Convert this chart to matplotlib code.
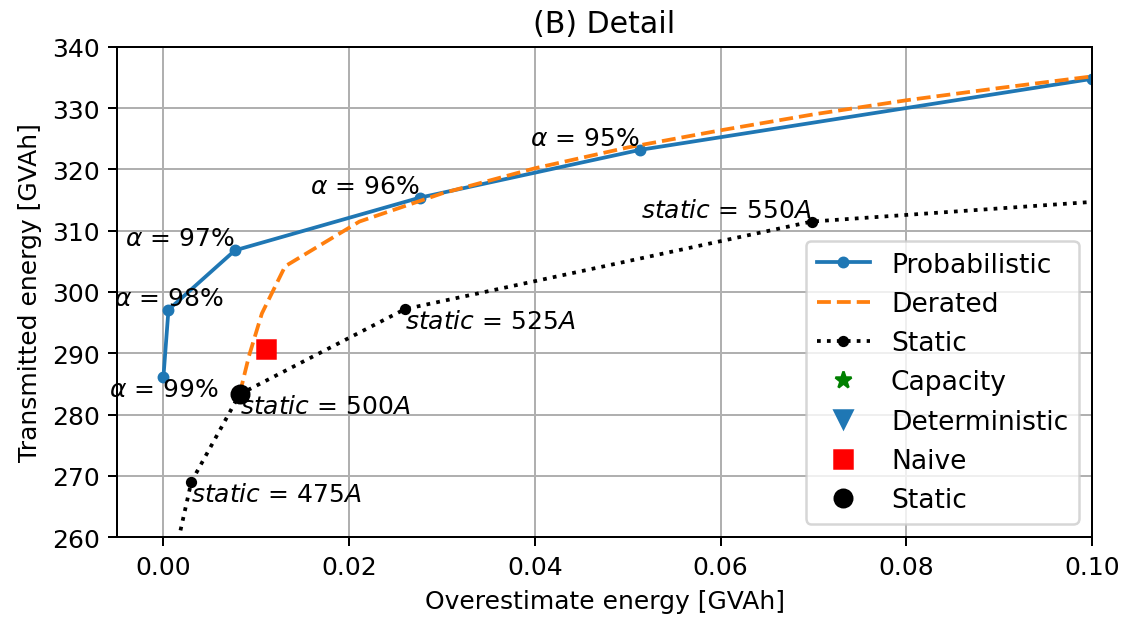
import matplotlib
matplotlib.use("Agg")
import matplotlib.pyplot as plt

# ---- data ----
prob_x = [0.0, 0.00054, 0.0077, 0.0276, 0.0513, 0.1]
prob_y = [286.2, 297.1, 306.8, 315.4, 323.2, 334.8]
prob_labels = [r"$\alpha$ = 99%", r"$\alpha$ = 98%", r"$\alpha$ = 97%",
               r"$\alpha$ = 96%", r"$\alpha$ = 95%"]

der_x = [0.0082, 0.0092, 0.0106, 0.0131, 0.0211, 0.030, 0.040, 0.050,
         0.060, 0.070, 0.080, 0.090, 0.100]
der_y = [283.3, 289.5, 296.5, 304.2, 311.5, 316.1, 320.2, 323.6,
         326.4, 329.0, 331.3, 333.3, 335.2]

stat_x = [0.0002, 0.0030, 0.0082, 0.0260, 0.0698, 0.130]
stat_y = [250.0, 269.0, 283.3, 297.2, 311.5, 317.9]
stat_labels = ["", r"$static$ = $475A$", r"$static$ = $500A$",
               r"$static$ = $525A$", r"$static$ = $550A$", ""]

cap_x, cap_y = [], []
det_x, det_y = [], []
naive_x, naive_y = [0.01105], [290.65]
static_pt_x, static_pt_y = [0.0082], [283.3]

fig = plt.figure(figsize=(6.3, 3.461), dpi=180)
ax = fig.add_axes([0.1032, 0.1364, 0.8598, 0.7866])

ax.plot(prob_x, prob_y, '-', marker='.', ms=7.5, color='C0', label='Probabilistic')
ax.plot(der_x, der_y, '--', color='C1', label='Derated')
ax.plot(stat_x, stat_y, ':', marker='.', ms=7, color='black', label='Static')
ax.plot(cap_x, cap_y, '*', color='green', ms=7, label='Capacity')
ax.plot(det_x, det_y, 'v', color='C0', ms=7, label='Deterministic')
ax.plot(naive_x, naive_y, 's', color='red', ms=7, label='Naive')
ax.plot(static_pt_x, static_pt_y, 'o', color='black', ms=7, label='Static')

fa = 10
fsx = 10
# alpha labels
ax.text(prob_x[0], prob_y[0], prob_labels[0], ha='center', va='top', fontsize=fa)
ax.text(prob_x[1], prob_y[1], prob_labels[1], ha='center', va='bottom', fontsize=fa)
for i in (2, 3, 4):
    ax.text(prob_x[i], prob_y[i], prob_labels[i], ha='right', va='bottom', fontsize=fa)
# static labels
for i in (1, 2, 3):
    ax.text(stat_x[i], stat_y[i], stat_labels[i], ha='left', va='top', fontsize=fsx)
ax.text(stat_x[4], stat_y[4], stat_labels[4], ha='right', va='bottom', fontsize=fsx)

ax.set_xlim(-0.005, 0.1)
ax.set_ylim(260, 340)
ax.grid(True)
ax.set_xlabel('Overestimate energy [GVAh]')
ax.set_ylabel('Transmitted energy [GVAh]')
ax.set_title('(B) Detail')
ax.legend(loc='lower right', fontsize=10.6)

fig.savefig('out.png', dpi=180)
